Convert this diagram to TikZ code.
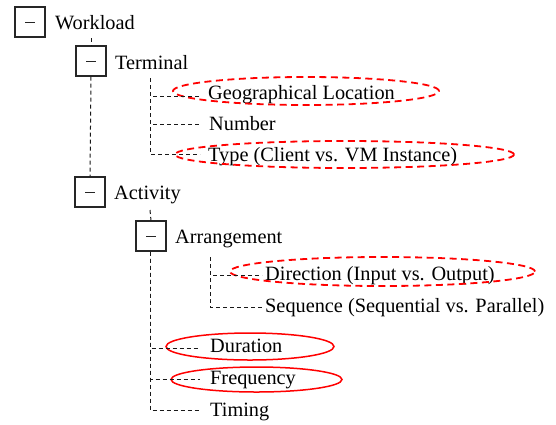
\documentclass[tikz,border=0pt]{standalone}
\usepackage{fontspec}
\setmainfont{Liberation Serif}
\usetikzlibrary{shapes.geometric}
\begin{document}
\begin{tikzpicture}[x=1pt,y=-1pt,
  font=\fontsize{20.3}{24}\selectfont,
  togglebox/.style={draw=black!85, line width=1.1pt, minimum size=30pt, inner sep=0pt,
    path picture={\draw[line width=1pt] ([xshift=-5pt]path picture bounding box.center) -- ++(10pt,0);}},
  lbl/.style={anchor=base west, inner sep=0pt},
  tree/.style={draw=black!90, line width=1pt, dash pattern=on 4pt off 3pt},
  markdash/.style={ellipse, draw=red, line width=1.8pt, dash pattern=on 7pt off 4.5pt, inner sep=0pt},
  marksolid/.style={ellipse, draw=red, line width=1.5pt, inner sep=0pt}]
\useasboundingbox (0,0) rectangle (556,424);

% expand/collapse boxes
\node[togglebox] (w)  at (30,22)  {};
\node[togglebox] (t)  at (91,61)  {};
\node[togglebox] (a)  at (90,192) {};
\node[togglebox] (ar) at (151,236) {};

% labels
\node[lbl] (tw)  at (55,29)   {Workload};
\node[lbl] (tt)  at (115,69)  {Terminal};
\node[lbl] (tg)  at (208,99)  {Geographical Location};
\node[lbl] (tn)  at (209,130) {Number};
\node[lbl] (ty)  at (208,161) {Type (Client vs. VM Instance)};
\node[lbl] (ta)  at (114,199) {Activity};
\node[lbl] (tar) at (175,243) {Arrangement};
\node[lbl] (td)  at (265,280) {Direction (Input vs. Output)};
\node[lbl] (ts)  at (265,312) {Sequence (Sequential vs. Parallel)};
\node[lbl] (tdu) at (210,352) {Duration};
\node[lbl] (tf)  at (210,384) {Frequency};
\node[lbl] (tti) at (210,416) {Timing};

% highlight ellipses
\node[markdash, minimum width=266pt, minimum height=28pt] (eg) at (306,91) {};
\node[markdash, minimum width=339pt, minimum height=27pt] (ey) at (344.5,154.5) {};
\node[markdash, minimum width=305pt, minimum height=29pt] (ed) at (382.5,271.5) {};
\node[marksolid, minimum width=168pt, minimum height=27pt] (edu) at (250,346.5) {};
\node[marksolid, minimum width=171pt, minimum height=25pt] (ef) at (256.5,379.5) {};

% tree joints
\coordinate (wj) at (91,38);
\coordinate (tj) at (150,78);
\coordinate (aj) at (150,210);
\coordinate (arj) at (210,257);
\coordinate (bg) at (200,96);
\coordinate (bn) at (200,124);
\coordinate (by) at (200,154);
\coordinate (bd) at (262,275);
\coordinate (bs) at (262,307);
\coordinate (bdu) at (200,348);
\coordinate (bf) at (200,379);
\coordinate (bti) at (200,410);

% connectors
\draw[tree] (wj) -- (t.north);
\draw[tree] (t.south) -- (a.north);
\draw[tree] (tj) |- (bg);
\draw[tree] (tj) |- (bn);
\draw[tree] (tj) |- (by);
\draw[tree] (aj) -- (ar.north);
\draw[tree] (ar.south -| aj) |- (bdu);
\draw[tree] (ar.south -| aj) |- (bf);
\draw[tree] (ar.south -| aj) |- (bti);
\draw[tree] (arj) |- (bd);
\draw[tree] (arj) |- (bs);
\end{tikzpicture}
\end{document}
